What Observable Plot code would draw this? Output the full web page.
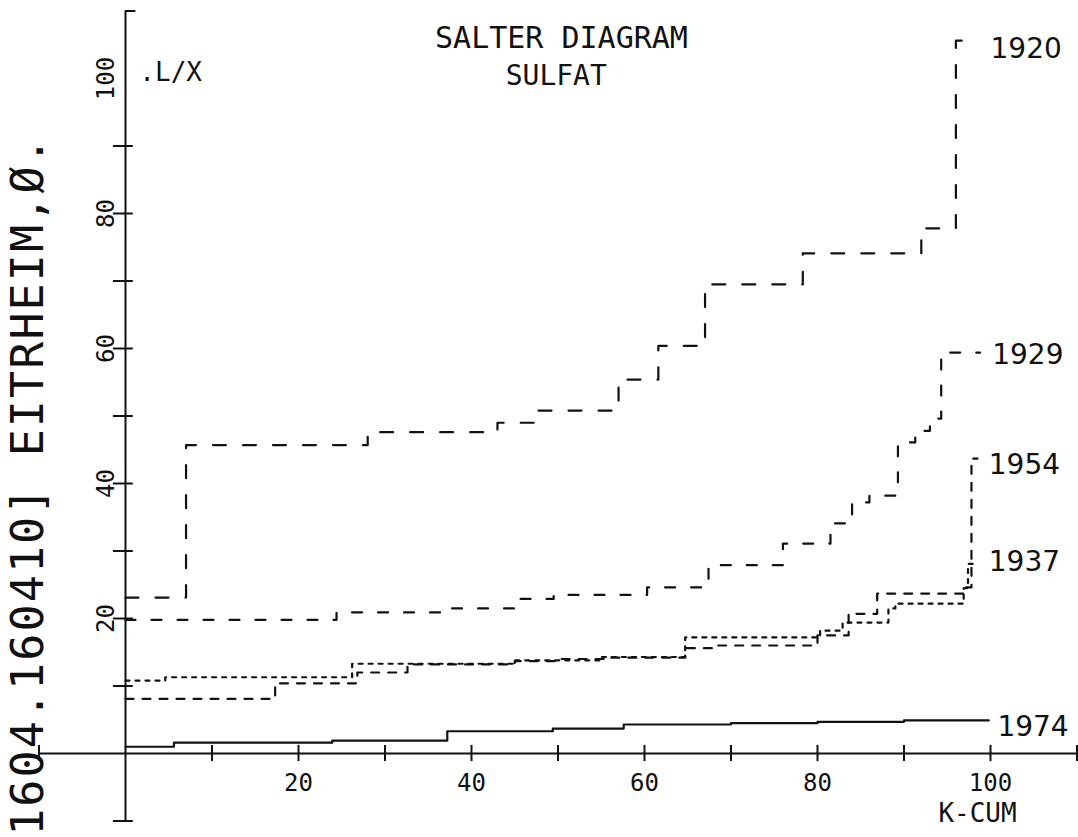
<!DOCTYPE html>
<html><head><meta charset="utf-8">
<script src="https://cdn.jsdelivr.net/npm/d3@7"></script>
<script src="https://cdn.jsdelivr.net/npm/@observablehq/plot@0.6"></script>
<style>body{margin:0;background:#fff;} svg{display:block;}</style>
</head><body><div id="chart"></div>
<script>
// ---- data ----
const years = ["1920", "1929", "1937", "1954", "1974"];

const x1920 = [0, 7, 28, 43, 47.7, 57, 61.6, 67, 78.3, 92, 96, 98];
const y1920 = [23.1, 45.7, 47.6, 49.0, 50.8, 55.4, 60.4, 69.5, 74.1, 77.8, 105.6, 105.6];

const x1929 = [0, 24.4, 36.7, 45.1, 49.5, 60.3, 67.4, 76, 81.5, 84, 86, 89.3, 91.3, 93, 94.3, 98.8];
const y1929 = [19.8, 20.9, 21.5, 22.9, 23.5, 24.6, 27.9, 31.1, 34.1, 37.2, 38.2, 46.1, 47.8, 49.6, 59.4, 59.4];

const x1937 = [0, 4.6, 26.2, 45, 55, 64.7, 80.3, 82.9, 88.2, 89, 96.9, 97.4, 98.2];
const y1937 = [10.8, 11.3, 13.3, 13.8, 14.3, 17.2, 18.2, 19.4, 21.5, 22.2, 24.5, 28.1, 28.1];

const x1954 = [0, 17.3, 26.8, 32.6, 45, 50, 56, 64.7, 68, 80, 83.6, 86.9, 97, 97.8, 98.5];
const y1954 = [8.1, 10.4, 12.0, 13.2, 13.7, 14.0, 14.2, 15.6, 16.0, 17.5, 20.7, 23.7, 24.6, 43.7, 43.7];

const x1974 = [0, 5.6, 23.9, 37.2, 49.4, 57.6, 70, 80, 90, 99.8];
const y1974 = [1.0, 1.6, 1.9, 3.3, 3.7, 4.3, 4.5, 4.7, 4.9, 4.9];

const labelX = [100, 100.2, 99.8, 99.8, 100.8];
const labelY = [104.3, 59.0, 28.3, 42.7, 3.9];

const xAxisTicks = [-10, 10, 20, 30, 40, 50, 60, 70, 80, 90, 100, 110];
const yAxisTicks = [-10, 10, 20, 30, 40, 50, 60, 70, 80, 90];
const xTickLabels = [20, 40, 60, 80, 100];
const yTickLabels = [20, 40, 60, 80, 100];

const titleText = "SALTER DIAGRAM";
const subtitleText = "SULFAT";
const yAxisLabel = ".L/X";
const xAxisLabel = "K-CUM";
const sideNote = "1604.160410] EITRHEIM,Ø.";

// ---- build tables ----
const seriesX = {"1920": x1920, "1929": x1929, "1937": x1937, "1954": x1954, "1974": x1974};
const seriesY = {"1920": y1920, "1929": y1929, "1937": y1937, "1954": y1954, "1974": y1974};
const dashes = {"1920": "13,17", "1929": "10,16", "1937": "4,6", "1954": "8,9", "1974": null};
const rows = (yr) => seriesX[yr].map((x, i) => ({year: yr, x, y: seriesY[yr][i]}));
const labels = years.map((yr, i) => ({year: yr, x: labelX[i], y: labelY[i]}));

const ink = "#111";
const mono = "DejaVu Sans Mono";

const lineMarks = years.map(yr => Plot.line(rows(yr), {
  x: "x", y: "y", curve: "step-after", stroke: ink, strokeWidth: 2.2,
  strokeDasharray: dashes[yr] || undefined
}));

const chart = Plot.plot({
  width: 1078, height: 837, margin: 0,
  x: {domain: [0, 100], range: [125, 990], axis: null},
  y: {domain: [0, 100], range: [753, 78], axis: null},
  style: {background: "#fff", color: ink},
  marks: [
    // axes
    Plot.ruleY([0], {x1: -10, x2: 110, stroke: ink, strokeWidth: 2}),
    Plot.ruleX([0], {y1: -10, y2: 110, stroke: ink, strokeWidth: 2}),
    Plot.ruleX(xAxisTicks, {x: d => d, y1: -1.2, y2: 1.2, stroke: ink, strokeWidth: 2}),
    Plot.ruleY(yAxisTicks, {y: d => d, x1: -1.4, x2: 0.9, stroke: ink, strokeWidth: 2}),
    Plot.ruleY([110], {x1: 0, x2: 1.2, stroke: ink, strokeWidth: 2}),
    // tick labels
    Plot.text(xTickLabels, {x: d => d, y: -4.4, text: d => String(d), fontFamily: mono, fontSize: 24, fill: ink}),
    Plot.text(yTickLabels, {x: -2.2, y: d => d, text: d => String(d), rotate: -90, fontFamily: mono, fontSize: 24, fill: ink}),
    Plot.text([xAxisLabel], {x: 98.5, y: -8.9, text: d => d, fontFamily: mono, fontSize: 26, fill: ink}),
    Plot.text([yAxisLabel], {x: 1.6, y: 100.9, text: d => d, textAnchor: "start", fontFamily: mono, fontSize: 26, fill: ink}),
    // title
    Plot.text([titleText], {x: 50.4, y: 105.9, text: d => d, fontFamily: mono, fontSize: 30, fill: ink}),
    Plot.text([subtitleText], {x: 49.8, y: 100.3, text: d => d, fontFamily: mono, fontSize: 28, fill: ink}),
    // series
    ...lineMarks,
    Plot.text(labels, {x: "x", y: "y", text: "year", textAnchor: "start", fontFamily: "DejaVu Sans", fontSize: 28, fill: ink}),
    // side annotation
    Plot.text([sideNote], {x: -11.15, y: -12.2, text: d => d, rotate: -90, textAnchor: "start", fontFamily: mono, fontSize: 45, fill: ink})
  ]
});
d3.select(chart).selectAll("text").filter(function() { return this.textContent === sideNote; })
  .style("letter-spacing", "2.1px");
document.getElementById("chart").appendChild(chart);
</script>
</body></html>
